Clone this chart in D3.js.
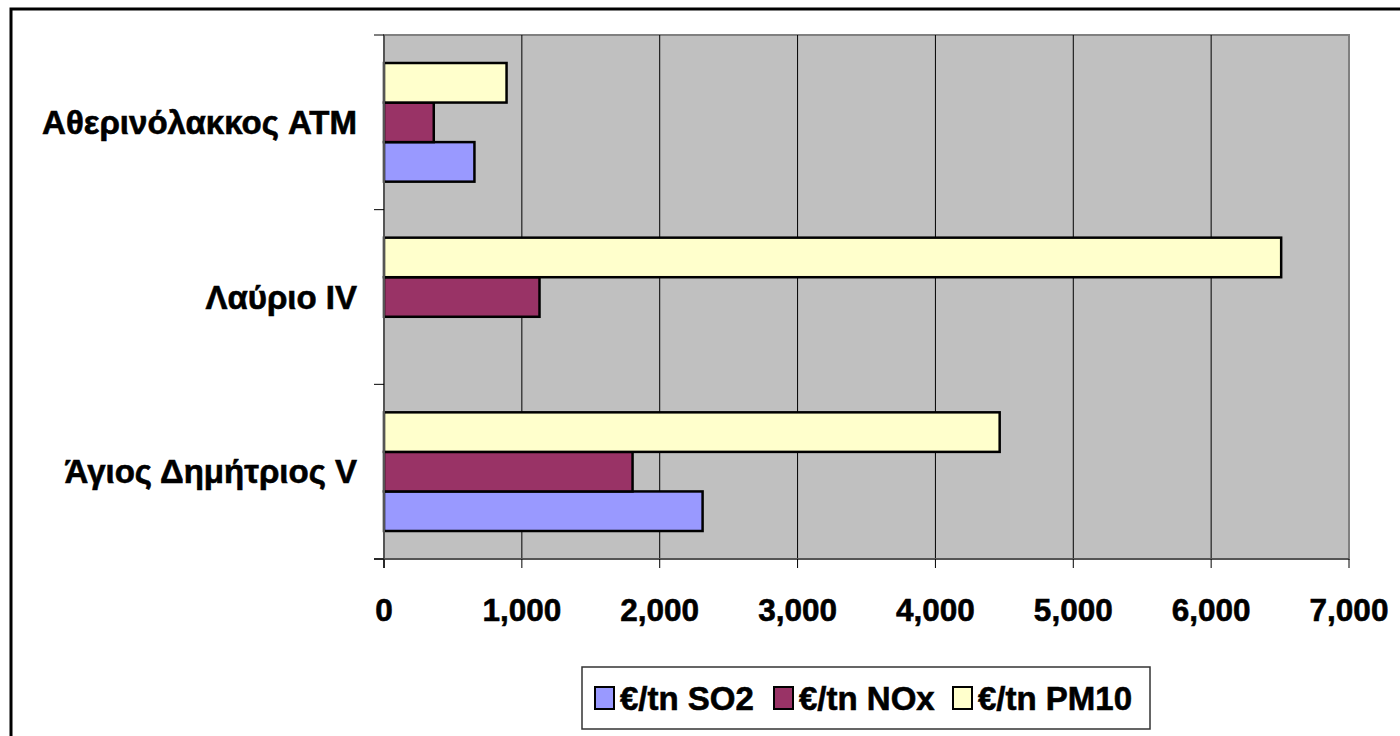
<!DOCTYPE html>
<html>
<head>
<meta charset="utf-8">
<script src="https://cdn.jsdelivr.net/npm/d3@7"></script>
<style>
  html, body { margin: 0; padding: 0; background: #fff; }
  svg { display: block; }
  text { font-family: "Liberation Sans", Arial, sans-serif; font-weight: bold; fill: #000; stroke: #000; stroke-width: 0.6px; }
</style>
</head>
<body>
<svg id="chart" width="1400" height="736"></svg>
<script>
const categories = ["Άγιος Δημήτριος V", "Λαύριο IV", "Αθερινόλακκος ATM"];
const seriesNames = ["€/tn SO2", "€/tn NOx", "€/tn PM10"];
const so2Values = [2311, 0, 656];
const noxValues = [1803, 1128, 361];
const pm10Values = [4466, 6508, 889];
const xTicks = [0, 1000, 2000, 3000, 4000, 5000, 6000, 7000];
const colors = ["#9999FF", "#993366", "#FFFFCC"];

const seriesValues = [so2Values, noxValues, pm10Values];

const svg = d3.select("#chart");
const plot = { left: 384, right: 1349, top: 35, bottom: 559 };

// outer border (extends beyond viewport on right/bottom)
svg.append("rect")
  .attr("x", 11).attr("y", 9)
  .attr("width", 1420).attr("height", 760)
  .attr("fill", "#fff").attr("stroke", "#000").attr("stroke-width", 3);

const x = d3.scaleLinear().domain([0, 7000]).range([plot.left, plot.right]);
const y = d3.scaleBand().domain(categories.slice().reverse()).range([plot.top, plot.bottom]).padding(0);
const groupPad = 28;
const ySub = d3.scaleBand().domain([2, 1, 0]).range([groupPad, y.bandwidth() - groupPad]).padding(0);

// plot area
svg.append("rect")
  .attr("x", plot.left).attr("y", plot.top)
  .attr("width", plot.right - plot.left).attr("height", plot.bottom - plot.top)
  .attr("fill", "#C0C0C0").attr("stroke", "#808080").attr("stroke-width", 2);

// gridlines
svg.append("g").selectAll("line").data(xTicks.slice(1, -1)).join("line")
  .attr("x1", d => x(d)).attr("x2", d => x(d))
  .attr("y1", plot.top).attr("y2", plot.bottom)
  .attr("stroke", "#000").attr("stroke-width", 1);

// bars
const groups = svg.append("g").selectAll("g").data(categories).join("g")
  .attr("transform", d => `translate(0,${y(d)})`);
groups.selectAll("rect")
  .data((d, i) => seriesValues.map((vals, s) => ({ s, v: vals[i] })).filter(e => e.v > 0))
  .join("rect")
  .attr("x", x(0))
  .attr("y", d => ySub(d.s))
  .attr("width", d => x(d.v) - x(0))
  .attr("height", ySub.bandwidth())
  .attr("fill", d => colors[d.s])
  .attr("stroke", "#000").attr("stroke-width", 2.5);

// left axis line
svg.append("line")
  .attr("x1", plot.left).attr("x2", plot.left)
  .attr("y1", plot.top).attr("y2", plot.bottom + 9)
  .attr("stroke", "#555").attr("stroke-width", 2);
// bottom axis line
svg.append("line")
  .attr("x1", plot.left - 10).attr("x2", plot.right)
  .attr("y1", plot.bottom).attr("y2", plot.bottom)
  .attr("stroke", "#555").attr("stroke-width", 2);

// category ticks
const catBounds = [plot.top, ...categories.map(c => y(c) + y.bandwidth())];
svg.append("g").selectAll("line").data(catBounds).join("line")
  .attr("x1", plot.left - 10).attr("x2", plot.left)
  .attr("y1", d => d).attr("y2", d => d)
  .attr("stroke", "#000").attr("stroke-width", 1);

// x ticks
svg.append("g").selectAll("line").data(xTicks).join("line")
  .attr("x1", d => x(d)).attr("x2", d => x(d))
  .attr("y1", plot.bottom).attr("y2", plot.bottom + 9)
  .attr("stroke", "#000").attr("stroke-width", 1);

const fmt = d3.format(",");
svg.append("g").selectAll("text").data(xTicks).join("text")
  .attr("x", d => x(d)).attr("y", 621)
  .attr("text-anchor", "middle")
  .style("font-size", "31.5px")
  .text(d => fmt(d));

// category labels
svg.append("g").selectAll("text").data(categories).join("text")
  .attr("x", 357).attr("y", d => y(d) + y.bandwidth() / 2)
  .attr("text-anchor", "end").attr("dominant-baseline", "central")
  .style("font-size", "33px")
  .text(d => d);

// legend
const lg = svg.append("g");
lg.append("rect")
  .attr("x", 582).attr("y", 667).attr("width", 568).attr("height", 62)
  .attr("fill", "#fff").attr("stroke", "#333").attr("stroke-width", 1.5);
const legX = [595, 774, 953];
seriesNames.forEach((name, i) => {
  lg.append("rect")
    .attr("x", legX[i]).attr("y", 687).attr("width", 19).attr("height", 22)
    .attr("fill", colors[i]).attr("stroke", "#000").attr("stroke-width", 2);
  lg.append("text")
    .attr("x", legX[i] + 25).attr("y", 710)
    .style("font-size", "33px")
    .text(name);
});
</script>
</body>
</html>
